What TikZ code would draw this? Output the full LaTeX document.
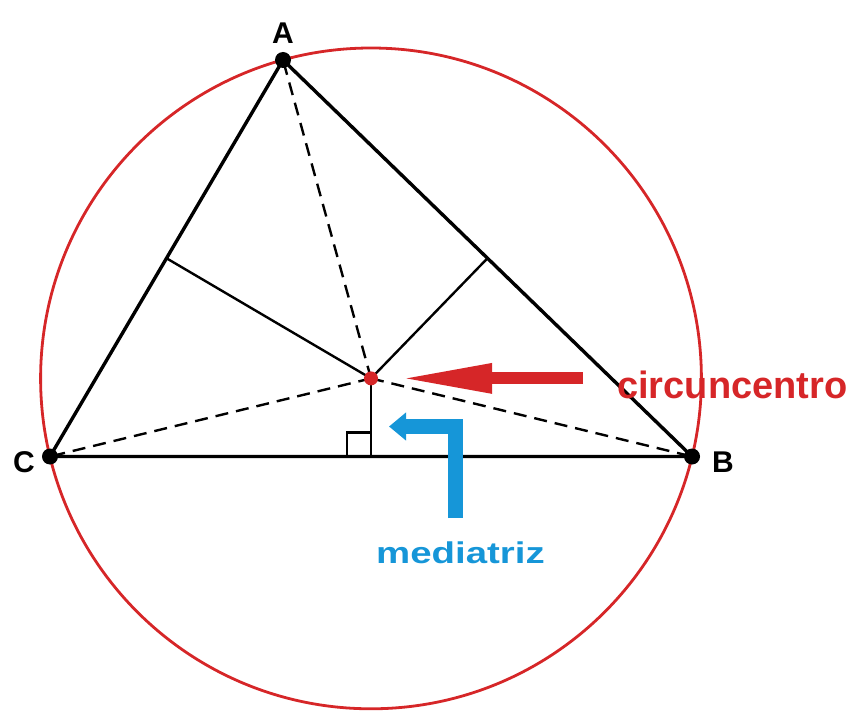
\documentclass[tikz,border=0pt]{standalone}
\usepackage{fontspec}
\setmainfont{Liberation Sans}
\usetikzlibrary{calc, positioning, arrows.meta}

\definecolor{circred}{RGB}{214,38,40}
\definecolor{medblue}{RGB}{22,150,216}

\begin{document}
\begin{tikzpicture}[
    x=1pt, y=-1pt,
    side/.style={line width=3.4pt, line join=round},
    perp/.style={line width=2.4pt},
    spoke/.style={line width=2.4pt, dash pattern=on 13pt off 8pt},
    vlabel/.style={inner sep=0pt, font=\fontsize{30}{30}\selectfont\bfseries},
    tag/.style={inner sep=0pt, font=\fontsize{38}{38}\selectfont\bfseries}
]
    \useasboundingbox (0,0) rectangle (852,714);

    \coordinate (A) at (283,60);
    \coordinate (B) at (692,456.5);
    \coordinate (C) at (50,456.5);
    \coordinate (O) at (371,378.4);

    % circunferencia circunscrita
    \draw[circred, line width=2.8pt] (O) circle (330.4);

    % mediatrices
    \draw[perp] ($(C)!0.5!(A)$) -- (O);
    \draw[perp] ($(A)!0.5!(B)$) -- (O);
    \draw[perp] ($(C)!0.5!(B)$) coordinate (M) -- (O);
    \draw[perp] ($(M)+(-24,0)$) -- ++(0,-24) -- ++(24,0);

    % radios
    \draw[spoke] (O) -- (A);
    \draw[spoke] (O) -- (B);
    \draw[spoke] (O) -- (C);

    \draw[side] (A) -- (B) -- (C) -- cycle;

    \foreach \p in {A,B,C}
        \fill (\p) circle (8);
    \fill[circred] (O) circle (7);

    \node[vlabel, above=16pt of A]                 (lA) {A};
    \node[vlabel, left=15pt of C, yshift=-6pt]     (lC) {C};
    \node[vlabel, right=20pt of B, yshift=-6pt]    (lB) {B};

    \node[tag, circred, anchor=base west] (circ) at (617,398) {circuncentro};
    \node[tag, medblue, anchor=base west, font=\fontsize{30}{30}\selectfont\bfseries]
        (med) at (376,563) {\scalebox{1.28}[1]{mediatriz}};

    % flechas
    \draw[circred, line width=12pt, -{Triangle[length=94pt, width=27pt]}]
        ([xshift=-34pt]circ.west |- O) coordinate (rt) -- ([xshift=27pt]O);
    \draw[medblue, line width=15pt, line join=miter, -{Triangle[length=17pt, width=27pt]}]
        (455,518) coordinate (bt) -- (455,426.5) -- (389,426.5);
\end{tikzpicture}
\end{document}
